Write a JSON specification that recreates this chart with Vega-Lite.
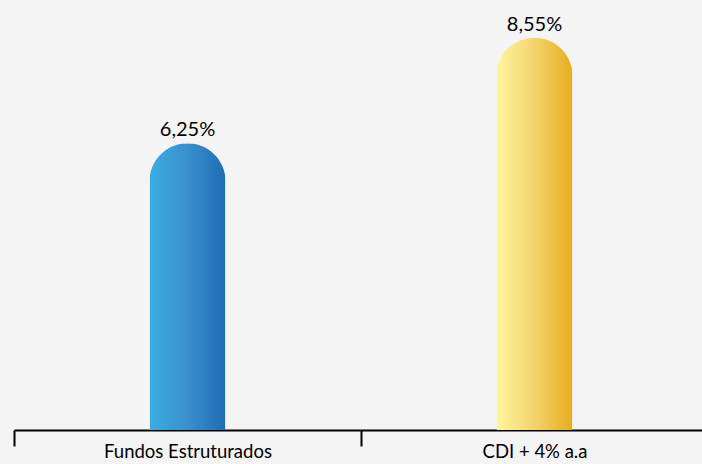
{
  "$schema": "https://vega.github.io/schema/vega-lite/v6.json",
  "width": 694,
  "height": 430,
  "autosize": {"type": "none"},
  "padding": {"left": 14, "top": 0, "right": 0, "bottom": 34},
  "background": "#f4f4f4",
  "config": {"view": {"stroke": null}, "font": "Lato"},
  "data": {"values": [
    {"cat": "Fundos Estruturados", "value": 6.25, "label": "6,25%"},
    {"cat": "CDI + 4% a.a", "value": 8.55, "label": "8,55%"}
  ]},
  "encoding": {
    "x": {"field": "cat", "type": "nominal", "sort": null,
      "scale": {"paddingInner": 0, "paddingOuter": 0},
      "axis": {"title": null, "labelAngle": 0, "domainColor": "#000000", "domainWidth": 2, "tickColor": "#000000", "tickWidth": 2, "tickSize": 16, "tickBand": "extent", "labelFontSize": 18.5, "labelColor": "#000000", "labelPadding": -4, "labelFont": "Lato"}},
    "y": {"field": "value", "type": "quantitative", "scale": {"domain": [0, 9.37], "nice": false, "zero": true}, "axis": null}
  },
  "layer": [
    {"transform": [{"filter": "datum.value < 7"}],
     "mark": {"type": "bar", "width": 76, "cornerRadiusTopLeft": 38, "cornerRadiusTopRight": 38,
       "color": {"gradient": "linear", "x1": 0, "x2": 1, "y1": 0, "y2": 0, "stops": [{"offset": 0, "color": "#3aade4"}, {"offset": 0.5, "color": "#3a8fcc"}, {"offset": 1, "color": "#1e6db5"}]}}},
    {"transform": [{"filter": "datum.value > 7"}],
     "mark": {"type": "bar", "width": 76, "cornerRadiusTopLeft": 38, "cornerRadiusTopRight": 38,
       "color": {"gradient": "linear", "x1": 0, "x2": 1, "y1": 0, "y2": 0, "stops": [{"offset": 0, "color": "#fff59e"}, {"offset": 0.5, "color": "#f3d36e"}, {"offset": 1, "color": "#e6ae1e"}]}}},
    {"mark": {"type": "text", "baseline": "bottom", "dy": -3, "fontSize": 20, "color": "#000000", "font": "Lato"},
     "encoding": {"text": {"field": "label"}}}
  ]
}
